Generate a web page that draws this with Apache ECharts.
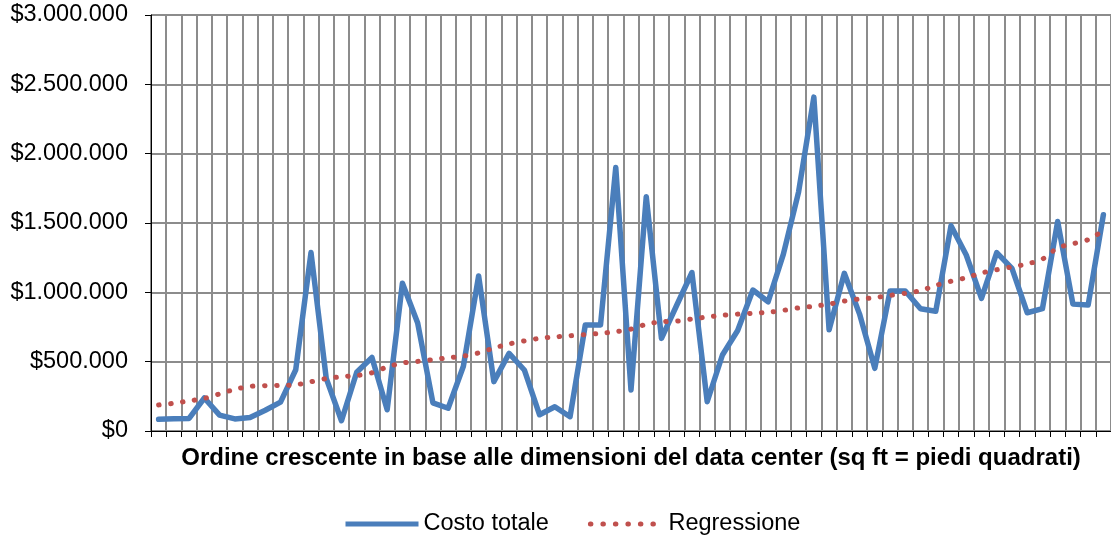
<!DOCTYPE html>
<html>
<head>
<meta charset="utf-8">
<script src="https://cdn.jsdelivr.net/npm/echarts@6/dist/echarts.min.js"></script>
<style>html,body{margin:0;padding:0;background:#fff;}#c{width:1111px;height:537px;}</style>
</head>
<body>
<div id="c"></div>
<script>
var categories = [];
for (var k = 1; k <= 63; k++) categories.push(String(k));

var costoTotale = [84000, 89000, 91000, 238000, 114000, 87000, 98000, 150000, 208000, 442000,
  1287000, 380000, 74000, 424000, 530000, 153000, 1066000, 779000, 203000, 164000,
  467000, 1118000, 356000, 560000, 440000, 117000, 175000, 103000, 764000, 764000,
  1900000, 296000, 1690000, 668000, 907000, 1143000, 211000, 548000, 725000, 1017000,
  932000, 1275000, 1725000, 2408000, 730000, 1137000, 843000, 452000, 1010000, 1010000,
  882000, 863000, 1480000, 1269000, 957000, 1287000, 1173000, 853000, 882000, 1511000,
  915000, 908000, 1560000];

var regressione = [188000, 200000, 217000, 235000, 268000, 300000, 322000, 327000, 329000, 333000,
  355000, 378000, 392000, 400000, 420000, 462000, 490000, 502000, 515000, 528000,
  540000, 563000, 598000, 628000, 650000, 668000, 678000, 687000, 695000, 705000,
  716000, 735000, 770000, 787000, 792000, 808000, 822000, 834000, 843000, 849000,
  856000, 870000, 888000, 900000, 915000, 937000, 952000, 962000, 978000, 993000,
  1012000, 1050000, 1080000, 1105000, 1140000, 1163000, 1183000, 1205000, 1240000, 1320000,
  1350000, 1380000, 1445000];

var yTicks = [0, 500000, 1000000, 1500000, 2000000, 2500000, 3000000];
var seriesNames = ['Costo totale', 'Regressione'];
var xTitle = 'Ordine crescente in base alle dimensioni del data center (sq ft = piedi quadrati)';

function fmt(v) {
  var s = String(Math.round(v));
  return '$' + s.replace(/\B(?=(\d{3})+(?!\d))/g, '.');
}

var BLUE = '#4A7EBB', RED = '#C0504D';
var DOTS = [0.5, 11.5];
var chart = echarts.init(document.getElementById('c'), null, {renderer: 'canvas'});
var FONT = '"Liberation Sans", Arial, sans-serif';
chart.setOption({
  animation: false,
  backgroundColor: '#ffffff',
  grid: {left: 151, top: 15, width: 963, height: 416, containLabel: false},
  legend: {
    left: 343, top: 512, padding: 0,
    itemWidth: 73, itemHeight: 14, itemGap: 39,
    textStyle: {fontFamily: FONT, fontSize: 23.5, color: '#000'},
    data: [
      {name: seriesNames[0], itemStyle: {opacity: 0}, lineStyle: {color: BLUE, width: 5, type: 'solid', cap: 'butt'}},
      {name: seriesNames[1], itemStyle: {opacity: 0}, lineStyle: {color: RED, width: 5, type: [0.5, 12], cap: 'round'}}
    ]
  },
  xAxis: {
    type: 'category',
    data: categories,
    boundaryGap: true,
    name: xTitle,
    nameLocation: 'middle',
    nameGap: 15,
    nameTextStyle: {fontFamily: FONT, fontSize: 24, fontWeight: 'bold', color: '#000'},
    axisLine: {lineStyle: {color: '#000', width: 1}},
    axisTick: {show: true, interval: 0, length: 6, lineStyle: {color: '#000'}},
    axisLabel: {show: false},
    splitLine: {show: true, interval: 0, lineStyle: {color: '#8c8c8c', width: 2}}
  },
  yAxis: {
    type: 'value',
    min: yTicks[0], max: yTicks[yTicks.length - 1], interval: 500000,
    axisLine: {show: true, lineStyle: {color: '#000', width: 1}},
    axisTick: {show: true, length: 6, lineStyle: {color: '#000'}},
    axisLabel: {formatter: fmt, fontFamily: FONT, fontSize: 23.5, color: '#000', margin: 23},
    splitLine: {show: true, lineStyle: {color: '#8c8c8c', width: 2}}
  },
  series: [
    {
      name: seriesNames[0], type: 'line', data: costoTotale,
      symbol: 'none', showSymbol: false, z: 3,
      lineStyle: {color: BLUE, width: 5.5, join: 'round', cap: 'round'},
      itemStyle: {color: BLUE}
    },
    {
      name: seriesNames[1], type: 'line', data: regressione,
      symbol: 'none', showSymbol: false, smooth: 0.3, z: 4,
      lineStyle: {color: RED, width: 5, type: DOTS, cap: 'round'},
      itemStyle: {color: RED}
    }
  ]
});
</script>
</body>
</html>
